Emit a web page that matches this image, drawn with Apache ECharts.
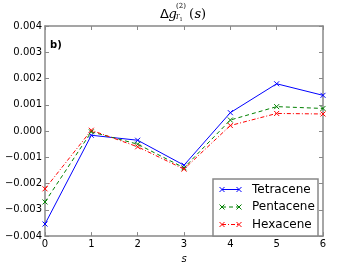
<!DOCTYPE html>
<html><head><meta charset="utf-8">
<script src="https://cdn.jsdelivr.net/npm/echarts@6/dist/echarts.min.js"></script>
<style>html,body{margin:0;padding:0;background:#fff}#c{width:360px;height:269px}</style>
</head><body><div id="c"></div>
<script>
var categories = [0, 1, 2, 3, 4, 5, 6];
var tetracene = [-0.00354, -0.00016, -0.00035, -0.0013, 0.0007, 0.0018, 0.00136];
var pentacene = [-0.0027, -0.00003, -0.0005, -0.0014, 0.00042, 0.00093, 0.00086];
var hexacene = [-0.0022, 0.00003, -0.0006, -0.00145, 0.00021, 0.00067, 0.00065];
var seriesNames = ['Tetracene', 'Pentacene', 'Hexacene'];
var xTicks = [0, 1, 2, 3, 4, 5, 6];

var font = 'DejaVu Sans';
var colors = ['#0000ff', '#008000', '#ff0000'];
var dashes = ['solid', [4, 3], [4, 2, 1, 2]];
var xMark = 'path://M0,0L10,10M10,0L0,10';
function pairs(v){ return categories.map(function(c,i){ return [c, v[i]]; }); }
function mk(i, data){
  return {
    name: seriesNames[i], type: 'line', data: pairs(data),
    symbol: xMark, symbolSize: 5, showSymbol: true,
    lineStyle: {color: colors[i], width: 1, type: dashes[i]},
    itemStyle: {color: 'none', borderColor: colors[i], borderWidth: 1},
    emphasis: {disabled: true}, animation: false, z: 3
  };
}
var chart = echarts.init(document.getElementById('c'));
function ax(extra){
  return Object.assign({
    axisLine: {show: true, onZero: false, lineStyle: {color: '#888', width: 1.5}},
    axisTick: {show: true, inside: true, length: 4, lineStyle: {color: '#888'}},
    splitLine: {show: false}
  }, extra);
}
var tStyle = {fill: '#000', textVerticalAlign: 'top'};
var graphics = [
  {type: 'text', left: 50, top: 40, style: {text: 'b)', font: 'bold 10px "DejaVu Sans"', fill: '#000'}},
  {type: 'text', x: 160, y: 8, style: Object.assign({text: 'Δ', font: '13px "DejaVu Sans"'}, tStyle)},
  {type: 'text', x: 168.5, y: 8, style: Object.assign({text: 'g', font: 'italic 13px "DejaVu Serif"'}, tStyle)},
  {type: 'text', x: 176, y: 3, style: Object.assign({text: '(2)', font: '7px "DejaVu Serif"'}, tStyle)},
  {type: 'text', x: 175, y: 14, style: Object.assign({text: 'T', font: 'italic 7px "DejaVu Serif"'}, tStyle)},
  {type: 'text', x: 179.5, y: 17, style: Object.assign({text: '1', font: '5px "DejaVu Serif"'}, tStyle)},
  {type: 'text', x: 189, y: 8, style: Object.assign({text: '(', font: '13px "DejaVu Serif"'}, tStyle)},
  {type: 'text', x: 194.5, y: 8, style: Object.assign({text: 's', font: 'italic 13px "DejaVu Serif"'}, tStyle)},
  {type: 'text', x: 201, y: 8, style: Object.assign({text: ')', font: '13px "DejaVu Serif"'}, tStyle)},
  {type: 'rect', shape: {x: 213, y: 179, width: 105, height: 57}, style: {fill: '#fff', stroke: '#888', lineWidth: 1.5}, z: 10}
];
var lx1 = 222, lx2 = 239, ys = [189.5, 207, 224.5];
seriesNames.forEach(function(n, i){
  var y = ys[i], c = colors[i];
  var dash = dashes[i] === 'solid' ? null : dashes[i];
  graphics.push({type: 'line', shape: {x1: lx1, y1: y, x2: lx2, y2: y}, style: {stroke: c, lineWidth: 1, lineDash: dash}, z: 11});
  [lx1, lx2].forEach(function(x){
    graphics.push({type: 'polyline', shape: {points: [[x-2.5, y-2.5], [x+2.5, y+2.5]]}, style: {stroke: c, lineWidth: 1}, z: 11});
    graphics.push({type: 'polyline', shape: {points: [[x-2.5, y+2.5], [x+2.5, y-2.5]]}, style: {stroke: c, lineWidth: 1}, z: 11});
  });
  graphics.push({type: 'text', x: 252, y: y, style: {text: n, font: '12px "DejaVu Sans"', fill: '#000', textVerticalAlign: 'middle'}, z: 11});
});
chart.setOption({
  animation: false,
  grid: {left: 45, right: 37, top: 26, bottom: 27.5},
  xAxis: [
    ax({type: 'value', min: 0, max: 6, interval: 1, position: 'bottom',
      name: 's', nameLocation: 'middle', nameGap: 17,
      nameTextStyle: {fontFamily: font, fontSize: 10, fontStyle: 'italic', color: '#000'},
      axisLabel: {fontFamily: font, fontSize: 10, color: '#000', margin: 3,
        formatter: function(v){ return xTicks.indexOf(v) >= 0 ? String(v) : ''; }}
    }),
    ax({type: 'value', min: 0, max: 6, interval: 1, position: 'top', axisLabel: {show: false}})
  ],
  yAxis: [
    ax({type: 'value', min: -0.004, max: 0.004, interval: 0.001, position: 'left',
      axisLabel: {fontFamily: font, fontSize: 10, color: '#000', margin: 3,
        formatter: function(v){ return v.toFixed(3).replace('-', '−').replace('−0.000', '0.000'); }}
    }),
    ax({type: 'value', min: -0.004, max: 0.004, interval: 0.001, position: 'right', axisLabel: {show: false}})
  ],
  graphic: graphics,
  series: [mk(0, tetracene), mk(1, pentacene), mk(2, hexacene)]
});
</script></body></html>
